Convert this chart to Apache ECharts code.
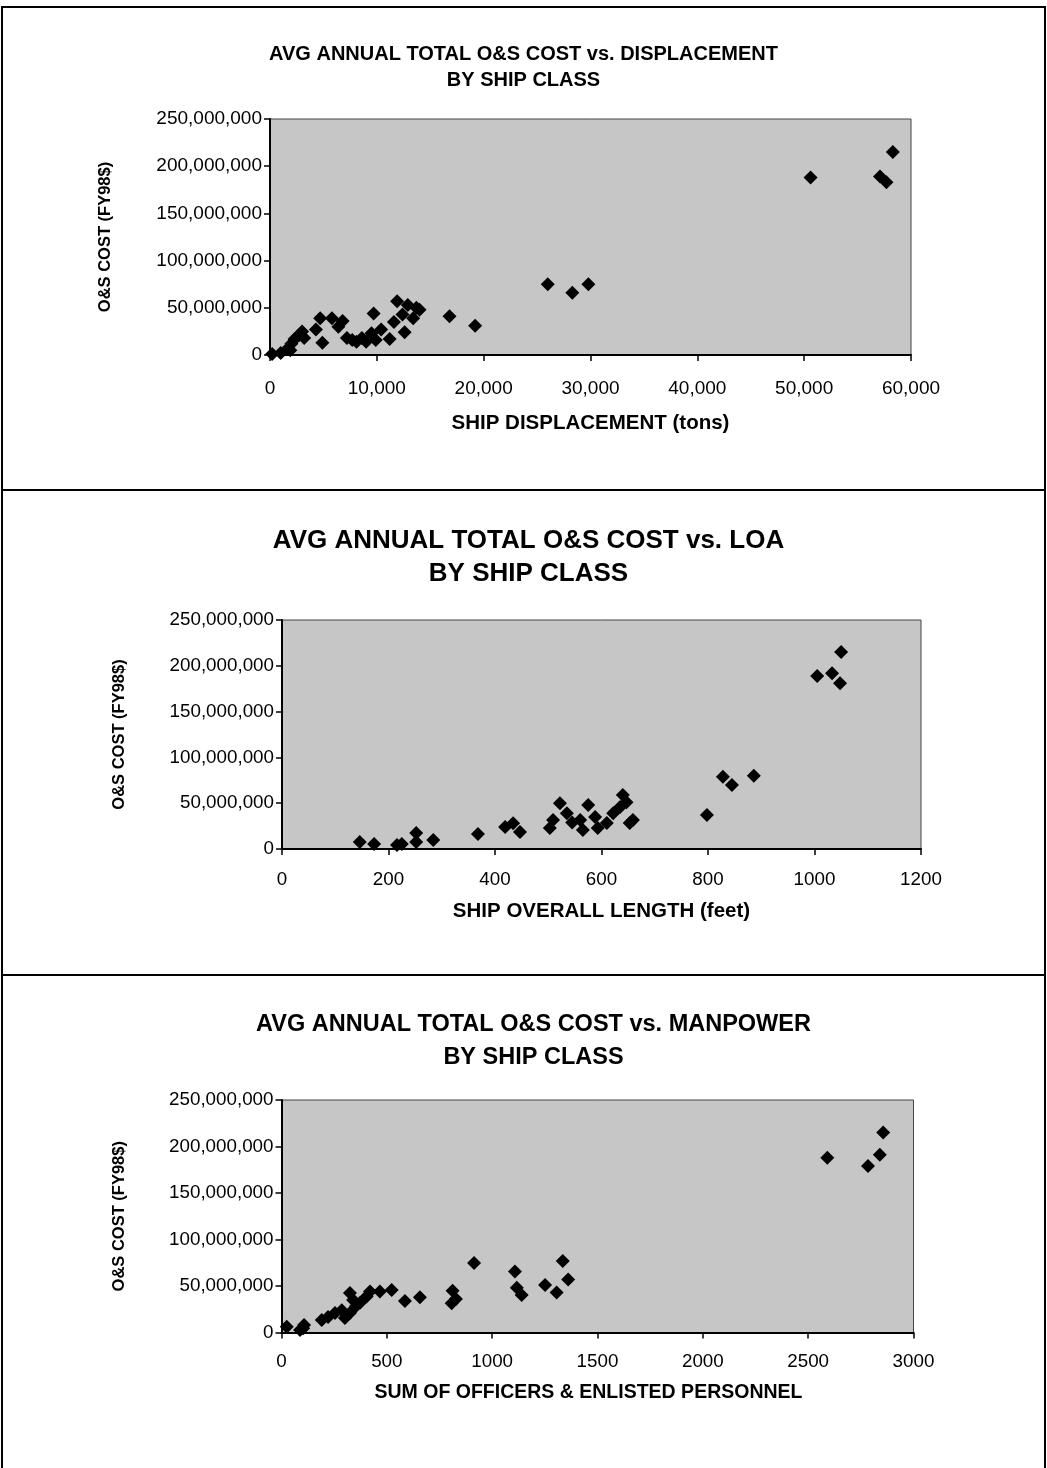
<!DOCTYPE html>
<html>
<head>
<meta charset="utf-8">
<script src="https://cdn.jsdelivr.net/npm/echarts@6/dist/echarts.min.js"></script>
<style>
html,body{margin:0;padding:0;background:#fff;}
#c{width:1047px;height:1468px;}
</style>
</head>
<body>
<div id="c"></div>
<script>
// Chart 1: displacement (tons) vs cost
const dispX = [200,1000,1600,1900,2000,2300,2700,3000,3200,4300,4700,4900,5800,6400,6800,7200,7700,8100,8600,9000,9500,9700,9900,10400,11200,11600,11900,12400,12600,12900,13400,13700,14000,16800,19200,26000,28300,29800,50600,57100,57700,58300];
const dispY = [1000000,2000000,6000000,5000000,12000000,17000000,21000000,25000000,18000000,27000000,39000000,13000000,39000000,30000000,36000000,18000000,16000000,14000000,18000000,14000000,23000000,44000000,16000000,27000000,17000000,35000000,57000000,43000000,24000000,53000000,39000000,50000000,48000000,41000000,31000000,75000000,66000000,75000000,188000000,189000000,183000000,215000000];
// Chart 2: overall length (feet) vs cost
const loaX = [146,173,216,225,252,252,284,368,419,434,447,503,509,522,535,545,560,565,575,588,593,610,622,635,640,647,653,659,798,828,845,886,1005,1033,1048,1050];
const loaY = [7600000,5500000,4400000,5500000,17500000,7600000,9800000,16400000,24000000,28000000,18600000,23000000,31600000,50000000,39000000,29000000,31600000,20700000,48000000,35000000,23000000,28400000,39000000,45800000,59000000,51000000,28400000,31600000,37000000,79000000,70000000,80000000,189000000,192000000,181000000,215000000];
// Chart 3: manpower vs cost
const crewX = [25,88,103,107,191,221,254,286,301,325,325,340,354,373,404,420,467,523,586,657,808,812,828,914,1108,1117,1140,1251,1306,1335,1361,2591,2784,2840,2856];
const crewY = [6300000,2700000,4500000,8000000,13500000,16700000,21000000,24000000,15600000,21000000,42500000,35000000,28600000,32000000,38600000,44000000,44000000,45800000,34000000,38000000,31500000,45000000,36000000,74600000,65500000,48000000,40400000,51000000,43000000,77000000,57000000,188000000,179000000,191000000,215000000];

const titles = [
  ['AVG ANNUAL TOTAL O&S COST vs. DISPLACEMENT', 'BY SHIP CLASS'],
  ['AVG ANNUAL TOTAL O&S COST vs. LOA', 'BY SHIP CLASS'],
  ['AVG ANNUAL TOTAL O&S COST vs. MANPOWER', 'BY SHIP CLASS']
];
const xNames = ['SHIP DISPLACEMENT (tons)', 'SHIP OVERALL LENGTH (feet)', 'SUM OF OFFICERS & ENLISTED PERSONNEL'];
const yName = 'O&S COST (FY98$)';
const xRanges = [[0,60000,10000],[0,1200,200],[0,3000,500]];
const yRange = [0,250000000,50000000];

function pairs(xs, ys){ return xs.map((x,i)=>[x, ys[i]]); }
const seriesData = [pairs(dispX,dispY), pairs(loaX,loaY), pairs(crewX,crewY)];

const FONT = "'Liberation Sans', Arial, sans-serif";
const grids = [
  {left:270, top:119, width:641, height:236},
  {left:282, top:620, width:639, height:229},
  {left:281.5, top:1100, width:632, height:232.5}
];
const titlePos = [[518.5,36],[523.5,519],[528.5,1003]];
const titleSize = [20,26,23.5];
const titleLH = [26,33,33];
const xLabelMargin = [24,21,20];
const xNameGap = [58,52,50];
const xNameSize = [20.5,20.5,19.5];
const xNamePad = [[0,0,0,0],[0,0,0,0],[0,18,0,0]];
const yNameGap = [156,154,154];
const tickSize = [19,18.8,18.8];

const comma = v => Number(v).toLocaleString('en-US');

const option = {
  backgroundColor:'#ffffff',
  animation:false,
  title: titles.map((t,i)=>({
    text: t[0] + '\n' + t[1],
    left: titlePos[i][0], top: titlePos[i][1], textAlign:'center',
    textStyle:{fontFamily:FONT, fontWeight:'bold', fontSize:titleSize[i], color:'#000', lineHeight:titleLH[i]}
  })),
  grid: grids.map(g=>Object.assign({show:true, backgroundColor:'#c6c6c6', borderColor:'#444', borderWidth:1}, g)),
  xAxis: xRanges.map((r,i)=>({
    type:'value', gridIndex:i, min:r[0], max:r[1], interval:r[2],
    name: xNames[i], nameLocation:'middle', nameGap:xNameGap[i],
    nameTextStyle:{fontFamily:FONT, fontWeight:'bold', fontSize:xNameSize[i], color:'#000', padding:xNamePad[i]},
    axisLine:{show:true, onZero:false, lineStyle:{color:'#000', width:2}},
    axisTick:{show:true, length:6, lineStyle:{color:'#000', width:1.5}},
    axisLabel:{margin:xLabelMargin[i], fontFamily:FONT, fontSize:tickSize[i], color:'#000',
      formatter: i===0 ? comma : (v=>String(v))},
    splitLine:{show:false}
  })),
  yAxis: [0,1,2].map(i=>({
    type:'value', gridIndex:i, min:yRange[0], max:yRange[1], interval:yRange[2],
    name: yName, nameLocation:'middle', nameGap:yNameGap[i], nameRotate:90,
    nameTextStyle:{fontFamily:FONT, fontWeight:'bold', fontSize:16.5, color:'#000'},
    axisLine:{show:true, onZero:false, lineStyle:{color:'#000', width:2}},
    axisTick:{show:true, length:6, lineStyle:{color:'#000', width:1.5}},
    axisLabel:{margin:8, fontFamily:FONT, fontSize:tickSize[i], color:'#000', formatter: comma},
    splitLine:{show:false}
  })),
  series: seriesData.map((d,i)=>({
    type:'scatter', xAxisIndex:i, yAxisIndex:i, data:d,
    symbol:'diamond', symbolSize:[14,14],
    itemStyle:{color:'#000', opacity:1}
  })),
  graphic: [
    {type:'rect', shape:{x:2, y:7, width:1043, height:1470}, style:{fill:null, stroke:'#000', lineWidth:2}, silent:true},
    {type:'line', shape:{x1:2, y1:490, x2:1045, y2:490}, style:{stroke:'#000', lineWidth:2}, silent:true},
    {type:'line', shape:{x1:2, y1:975, x2:1045, y2:975}, style:{stroke:'#000', lineWidth:2}, silent:true}
  ]
};
const chart = echarts.init(document.getElementById('c'), null, {renderer:'canvas'});
chart.setOption(option);
</script>
</body>
</html>
